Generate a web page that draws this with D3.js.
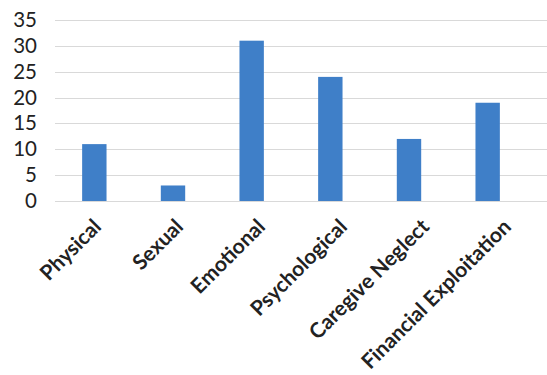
<!DOCTYPE html>
<html><head><meta charset="utf-8">
<script src="https://cdn.jsdelivr.net/npm/d3@7"></script>
<style>body{margin:0;background:#fff}svg{display:block}</style>
</head><body>
<script>
const categories = ["Physical","Sexual","Emotional","Psychological","Caregive Neglect","Financial Exploitation"];
const values = [11, 3, 31, 24, 12, 19];
const yTicks = [0,5,10,15,20,25,30,35];

const W = 547, H = 375;
const svg = d3.select("body").append("svg").attr("width", W).attr("height", H);

const x = d3.scaleBand().domain(categories).range([55, 527]).paddingInner(0.69).paddingOuter(0.345);
// label anchor positions (labels in the picture are spaced slightly wider than the bars)
const xl = d3.scalePoint().domain(categories).range([102, 512]);
const y = d3.scaleLinear().domain([0, 35]).range([201, 20]);

// gridlines
svg.append("g").selectAll("line").data(yTicks).join("line")
  .attr("x1", 55).attr("x2", W)
  .attr("y1", d => Math.round(y(d)) + 0.5).attr("y2", d => Math.round(y(d)) + 0.5)
  .attr("stroke", "#d9d9d9").attr("stroke-width", 1);

// y axis
const yAxis = d3.axisLeft(y).tickValues(yTicks).tickSize(0).tickPadding(0);
const ga = svg.append("g").attr("transform", "translate(37,0)").call(yAxis);
ga.select(".domain").remove();
ga.selectAll("text").attr("font-family", "Lato, sans-serif").attr("font-size", 20.5).attr("fill", "#222");

// bars
svg.append("g").selectAll("rect").data(values).join("rect")
  .attr("x", (d,i) => x(categories[i]))
  .attr("width", x.bandwidth())
  .attr("y", d => y(d))
  .attr("height", d => y(0) - y(d))
  .attr("fill", "#3f7fc8");

// x axis labels
const xAxis = d3.axisBottom(xl).tickSize(0).tickPadding(0);
const gx = svg.append("g").attr("transform", "translate(0,228)").call(xAxis);
gx.select(".domain").remove();
gx.selectAll("text")
  .attr("font-family", "Lato, sans-serif").attr("font-weight", "bold").attr("font-size", 21).attr("fill", "#222")
  .attr("text-anchor", "end")
  .attr("dy", null).attr("y", null)
  .attr("transform", "rotate(-45)");
</script>
</body></html>
